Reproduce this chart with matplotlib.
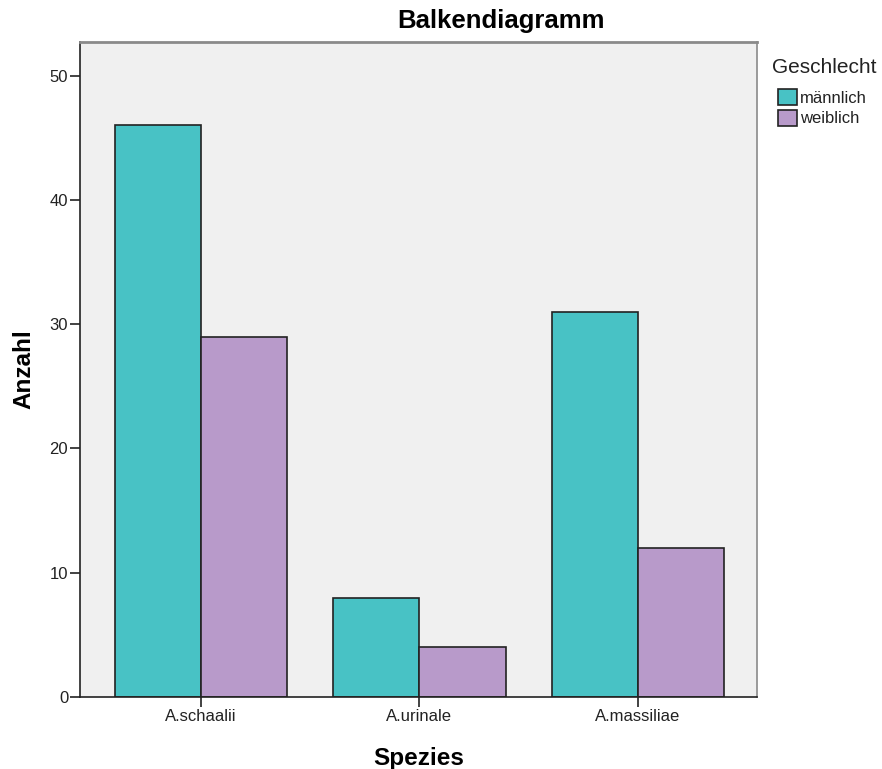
#!/usr/bin/env python3

'''Balkendiagramm: Anzahl pro Spezies nach Geschlecht.'''

import matplotlib
matplotlib.use('Agg')
import matplotlib.pyplot as plt
import numpy as np

SPECIES = ['A.schaalii', 'A.urinale', 'A.massiliae']
GROUPS = ['männlich', 'weiblich']
MALE = [46, 8, 31]
FEMALE = [29, 4, 12]

COLORS = ['#48C2C5', '#B89ACA']
BAR_W = 0.394
FONT = ['Liberation Sans', 'DejaVu Sans']
TXT = '#222222'


def main():
    plt.rcParams['font.family'] = FONT
    fig = plt.figure(figsize=(8.82, 7.69), dpi=100)
    ax = fig.add_axes([0.0907, 0.0936, 0.7675, 0.8518])
    ax.set_facecolor('#F0F0F0')

    x = np.arange(len(SPECIES))
    handles = []
    for i, (vals, color) in enumerate(zip([MALE, FEMALE], COLORS)):
        offset = (i - 0.5) * BAR_W
        h = ax.bar(x + offset, vals, BAR_W, color=color,
                   edgecolor=TXT, linewidth=1.2, zorder=2)
        handles.append(h)

    ax.set_xlim(-0.554, 2.545)
    ax.set_ylim(0, 52.7)
    ax.set_xticks(x)
    ax.set_xticklabels(SPECIES)
    ax.set_yticks([0, 10, 20, 30, 40, 50])
    ax.tick_params(axis='both', length=7, width=1.2, color=TXT,
                   labelsize=12, labelcolor=TXT, pad=1.5)

    ax.spines['left'].set_color(TXT)
    ax.spines['bottom'].set_color(TXT)
    ax.spines['left'].set_linewidth(1.2)
    ax.spines['bottom'].set_linewidth(1.2)
    ax.spines['top'].set_color('#8a8a8a')
    ax.spines['top'].set_linewidth(2)
    ax.spines['right'].set_color('#8a8a8a')
    ax.spines['right'].set_linewidth(1.2)

    # title sits right of the axes centre in the original
    fig.text(0.568, 0.9636, 'Balkendiagramm', fontsize=18.5,
             fontweight='bold', ha='center', va='baseline')
    ax.set_xlabel('Spezies', fontsize=17.5, fontweight='bold', labelpad=17)
    ax.set_ylabel('Anzahl', fontsize=17.5, fontweight='bold', labelpad=10)

    # legend: title as plain text, entries indented below it
    fig.text(0.8753, 0.9057, 'Geschlecht', fontsize=15, color=TXT,
             ha='left', va='baseline')
    leg = fig.legend(handles, GROUPS,
                     loc='upper left', bbox_to_anchor=(0.882, 0.8843),
                     frameon=False, fontsize=12,
                     handlelength=1.15, handleheight=1.1, handletextpad=0.15,
                     labelspacing=0.25, borderpad=0, borderaxespad=0)
    for t in leg.get_texts():
        t.set_color(TXT)

    fig.savefig('out.png', dpi=100)


if __name__ == '__main__':
    main()
